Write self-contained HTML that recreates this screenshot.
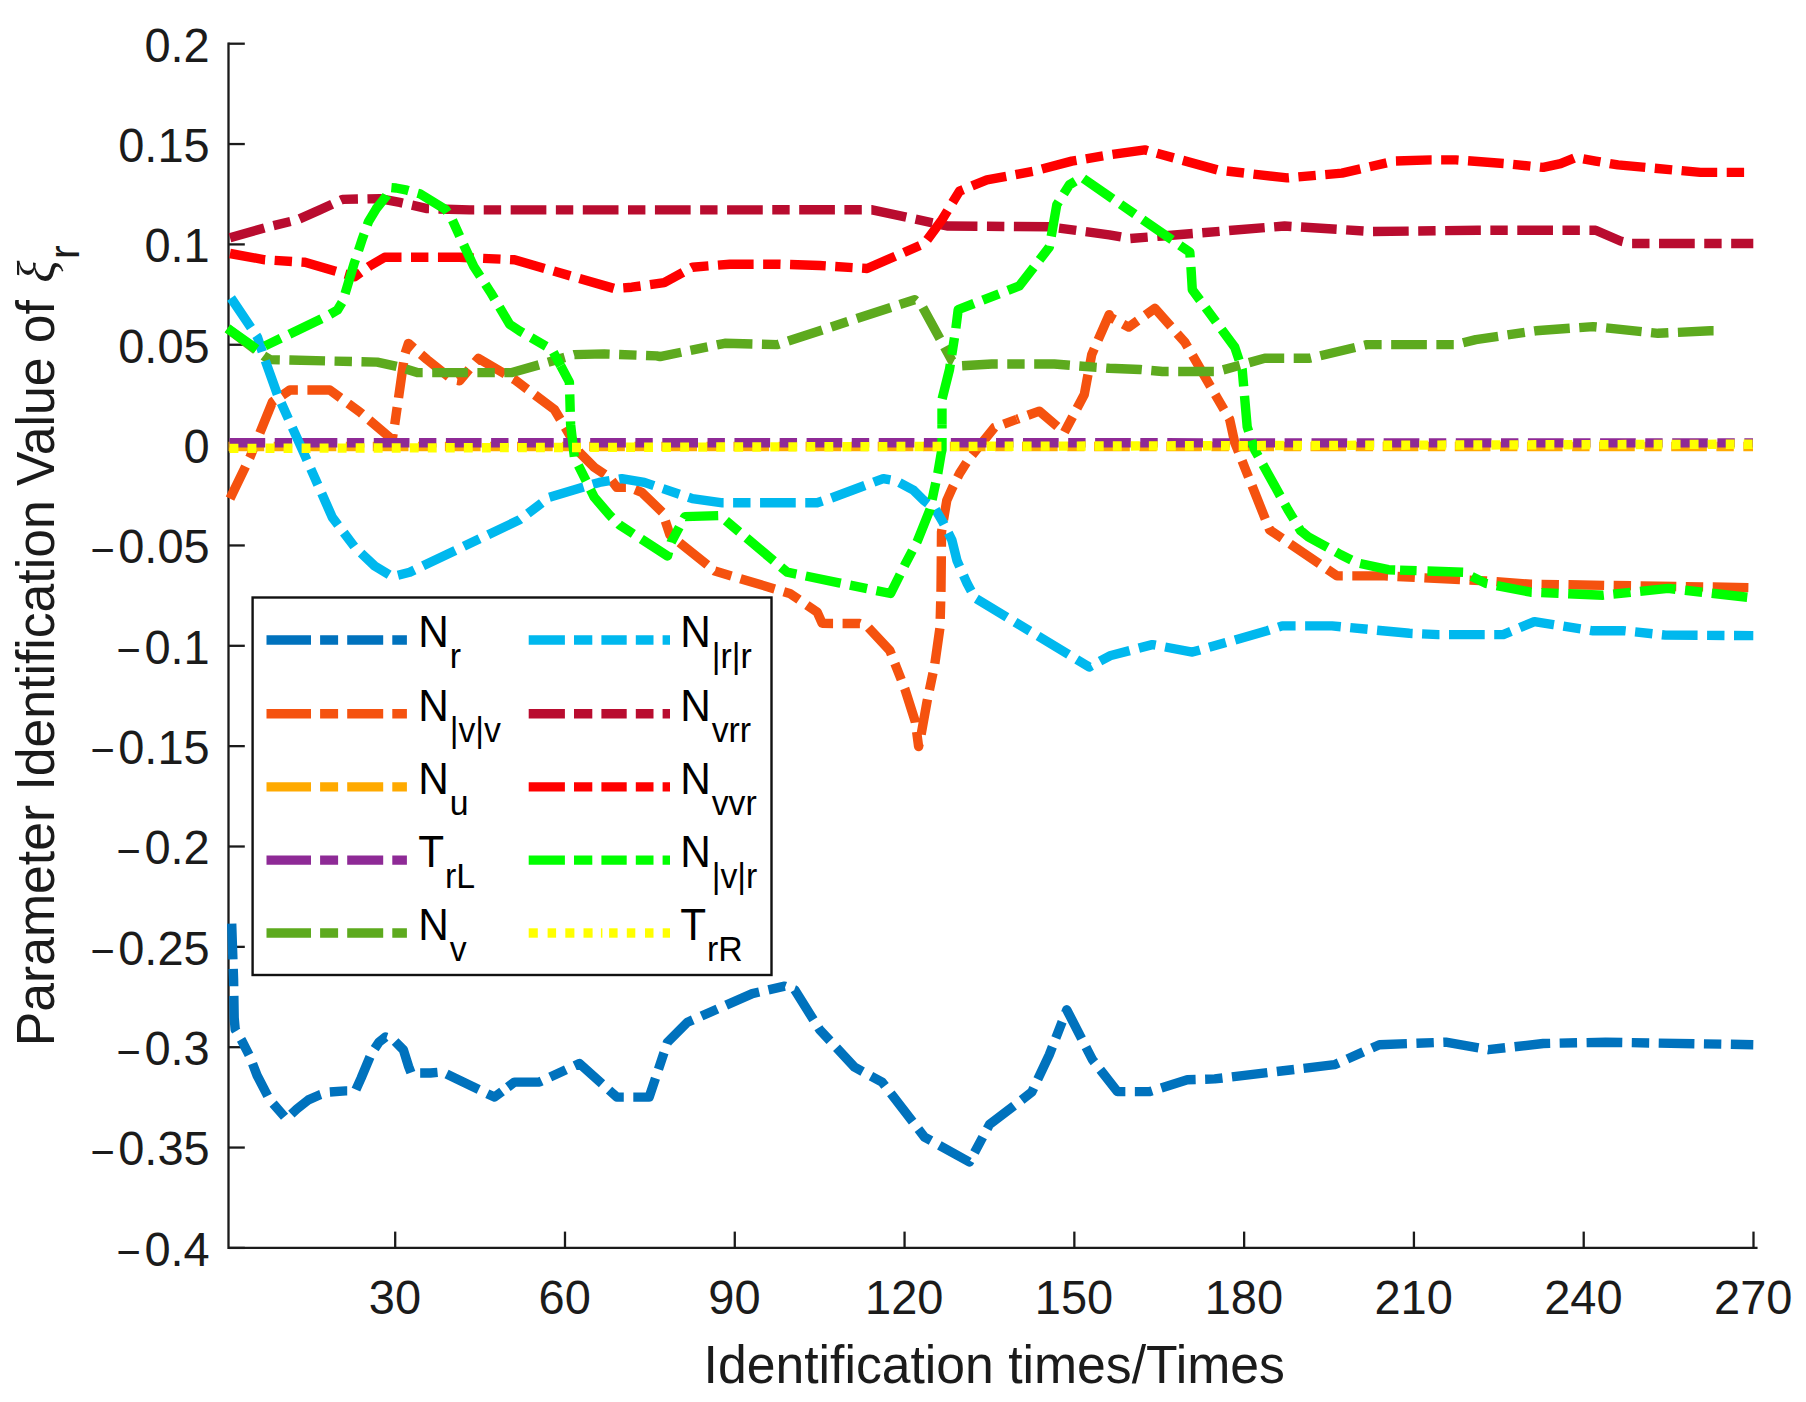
<!DOCTYPE html>
<html lang="en"><head><meta charset="utf-8"><title>Parameter Identification Value</title>
<style>html,body{margin:0;padding:0;background:#fff;overflow:hidden}svg{display:block}text{font-family:"Liberation Sans",sans-serif}</style></head><body>
<svg width="1806" height="1402" viewBox="0 0 1806 1402">
<rect width="1806" height="1402" fill="#fff"/>
<g stroke="#1b1b1b" stroke-width="2.3" fill="none" stroke-linecap="square">
<path d="M228.5,43.7 V1247.9 H1756.4"/>
</g>
<g stroke="#1b1b1b" stroke-width="2.3" fill="none">
<path d="M228.5,43.70 h16.3"/>
<path d="M228.5,144.05 h16.3"/>
<path d="M228.5,244.40 h16.3"/>
<path d="M228.5,344.75 h16.3"/>
<path d="M228.5,445.10 h16.3"/>
<path d="M228.5,545.45 h16.3"/>
<path d="M228.5,645.80 h16.3"/>
<path d="M228.5,746.15 h16.3"/>
<path d="M228.5,846.50 h16.3"/>
<path d="M228.5,946.85 h16.3"/>
<path d="M228.5,1047.20 h16.3"/>
<path d="M228.5,1147.55 h16.3"/>
<path d="M228.5,1247.90 h16.3"/>
<path d="M395.20,1247.9 v-16.3"/>
<path d="M564.99,1247.9 v-16.3"/>
<path d="M734.77,1247.9 v-16.3"/>
<path d="M904.56,1247.9 v-16.3"/>
<path d="M1074.35,1247.9 v-16.3"/>
<path d="M1244.14,1247.9 v-16.3"/>
<path d="M1413.92,1247.9 v-16.3"/>
<path d="M1583.71,1247.9 v-16.3"/>
<path d="M1753.50,1247.9 v-16.3"/>
</g>
<g fill="none" stroke-linejoin="round" stroke-linecap="butt">
<path d="M231.7,923.7 L233.6,980.0 L234.2,1018.0 L235.2,1029.5 L241.7,1040.5 L249.4,1055.5 L257.1,1075.5 L269.5,1099.5 L286.3,1118.8 L297.0,1108.9 L308.4,1099.9 L320.0,1094.8 L327.7,1092.2 L345.7,1090.9 L355.4,1090.9 L361.1,1078.1 L371.3,1053.7 L379.0,1042.2 L385.5,1037.0 L393.2,1039.6 L403.4,1049.9 L408.6,1066.5 L411.1,1073.0 L430.4,1073.0 L442.0,1071.9 L454.8,1078.1 L494.5,1097.1 L504.5,1089.6" stroke="#0072BD" stroke-width="9.4" stroke-dasharray="35.7 9.5 17.4 9.535"/>
<path d="M504.5,1089.6 L514.5,1082.1 L539.4,1082.1 L579.4,1063.4 L616.8,1097.1 L649.2,1097.1 L667.5,1042.2 L687.4,1022.3 L752.3,993.6 L784.7,986.1 L794.7,989.8 L819.7,1029.7 L854.6,1067.2 L882.1,1082.1 L924.5,1137.1 L969.4,1162.0 L989.4,1124.6 L1031.8,1092.1 L1049.3,1054.7 L1066.8,1009.8 L1092.4,1059.7 L1117.4,1091.6 L1149.8,1091.6 L1187.3,1079.7 L1214.7,1078.9 L1334.5,1064.7 L1379.4,1044.7 L1445.8,1042.2 L1488.3,1049.7 L1543.2,1043.5 L1605.6,1042.2 L1753.3,1044.7" stroke="#0072BD" stroke-width="9.4" stroke-dasharray="35.7 9.5 17.4 9.535" stroke-dashoffset="68.0"/>
<path d="M230.0,498.6 L249.9,457.4 L272.4,402.0 L289.9,390.0 L329.8,390.0 L359.8,412.0 L392.2,439.5 L394.7,424.5 L404.7,354.6 L408.4,343.4 L427.1,359.6 L452.1,379.6 L459.6,380.8 L478.3,358.4 L514.5,379.6 L554.4,409.5 L569.4,434.5 L579.4,452.4 L594.3,467.4 L609.3,477.4 L616.8,487.3 L629.3,487.3 L641.8,492.3 L662.5,512.3 L669.9,534.8 L714.9,571.0 L789.7,593.4 L817.2,612.1 L822.2,623.4 L859.9,623.5 L867.4,626.5 L889.8,650.5 L904.8,688.7 L915.3,721.7 L918.6,746.5 L920.5,738.0 L927.2,700.7 L934.7,664.8 L940.0,627.4 L941.0,589.9 L941.3,560.0 L941.5,532.0 L943.5,520.0 L946.8,500.3 L951.9,488.8 L959.6,473.4 L968.6,459.3 L975.0,451.6 L994.4,427.5 L1016.8,419.3" stroke="#F5520F" stroke-width="9.4" stroke-dasharray="35.7 9.5 17.4 9.535"/>
<path d="M1016.8,419.3 L1039.3,411.2 L1064.3,432.4 L1084.3,394.5 L1091.7,354.6 L1109.2,314.6 L1109.9,317.1 L1128.7,327.1 L1154.9,308.4 L1184.8,342.1 L1229.7,419.4 L1234.7,442.4 L1244.7,467.4 L1269.6,529.8 L1337.0,575.9 L1384.4,575.9 L1485.8,580.9 L1530.7,584.2 L1753.3,587.7" stroke="#F5520F" stroke-width="9.4" stroke-dasharray="35.7 9.5 17.4 9.535" stroke-dashoffset="60.3"/>
<path d="M228.5,446.5 L1753.0,446.5" stroke="#FFAA00" stroke-width="9.4" stroke-dasharray="35.7 9.5 17.4 9.535"/>
<path d="M229.5,442.7 L1753.0,442.9" stroke="#8E2A96" stroke-width="9.4" stroke-dasharray="35.7 9.5 17.4 9.535"/>
<path d="M227.5,328.4 L263.7,355.9 L269.9,359.6 L377.2,362.1 L399.7,367.1 L417.2,372.6 L512.0,372.6 L544.4,363.3 L574.4,354.6 L604.3,353.9 L656.7,355.9 L660.0,356.6 L724.9,343.3 L777.3,344.6 L914.6,299.7 L922.0,305.9 L952.0,360.8 L962.0,365.8 L991.9,364.0 L1054.3,364.0 L1109.2,368.3 L1139.9,369.5 L1162.4,371.5 L1217.3,371.5 L1264.7,358.3 L1309.6,358.3 L1367.0,344.6 L1455.8,344.6 L1475.8,339.6 L1535.7,330.8 L1593.1,326.6 L1618.0,329.1 L1658.0,333.3 L1710.4,330.8 L1722.9,330.8" stroke="#5DAA1E" stroke-width="9.4" stroke-dasharray="35.7 9.5 17.4 9.535"/>
<path d="M231.0,298.0 L257.4,337.1 L264.9,359.6 L277.4,394.5 L302.4,449.9 L332.3,517.3 L354.8,547.2 L374.7,566.0 L392.2,576.7 L409.7,572.2 L519.5,519.8 L549.4,497.3 L599.3,482.4 L621.8,478.6 L644.3,482.4 L692.4,498.6 L722.4,502.8 L817.2,502.8 L829.7,498.6 L883.3,478.6 L896.7,481.1 L913.4,490.1 L923.6,500.3 L935.2,509.0 L942.9,522.2 L951.9,540.1 L957.0,560.7 L967.3,583.8 L975.0,597.9 L1089.2,667.0 L1099.6,661.4" stroke="#00B8EE" stroke-width="9.4" stroke-dasharray="35.7 9.5 17.4 9.535"/>
<path d="M1099.6,661.4 L1100.0,661.2" stroke="#00B8EE" stroke-width="9.4" stroke-dasharray="35.7 9.5 17.4 9.535" stroke-dashoffset="70.3"/>
<path d="M1100.0,661.2 L1109.9,655.8 L1152.3,644.6 L1192.3,652.1 L1267.1,630.8 L1282.1,625.9 L1332.0,625.9 L1409.4,633.3 L1438.4,634.6 L1503.2,634.6 L1534.4,621.6 L1553.2,624.6 L1593.1,630.8 L1624.3,630.8 L1665.5,635.1 L1753.3,635.6" stroke="#00B8EE" stroke-width="9.4" stroke-dasharray="35.7 9.5 17.4 9.535" stroke-dashoffset="4.0"/>
<path d="M230.0,237.8 L264.9,227.8 L297.4,219.8 L319.8,209.9 L342.3,199.4 L379.7,198.6 L399.7,202.4 L427.1,208.6 L469.6,209.9 L872.1,209.8 L947.0,226.0 L1049.3,226.8 L1109.2,234.8 L1129.9,238.5 L1162.4,236.0 L1284.6,226.0 L1372.0,231.5 L1478.3,230.3 L1595.6,230.3 L1620.5,241.0 L1630.5,243.5 L1753.3,243.5" stroke="#B90C2F" stroke-width="9.4" stroke-dasharray="35.7 9.5 17.4 9.535"/>
<path d="M230.0,253.5 L264.9,259.8 L304.9,262.3 L334.8,271.0 L354.8,276.7 L369.7,266.0 L384.7,257.3 L459.6,257.3 L514.5,259.8 L614.3,288.5 L631.8,287.2 L664.2,282.7 L692.4,267.2 L729.9,264.2 L779.8,264.2 L819.7,265.5 L867.1,268.5 L924.5,243.5 L942.0,219.8 L959.5,191.1 L986.9,179.9 L1034.3,171.1 L1071.8,161.1 L1109.2,154.9 L1144.9,149.9 L1217.3,169.9 L1287.1,177.9 L1342.0,173.1 L1394.4,161.1 L1430.9,159.9 L1455.8,159.9 L1505.7,163.6 L1543.2,167.4 L1560.6,163.6 L1575.6,157.4 L1595.6,161.1 L1618.0,164.9 L1645.5,167.4 L1700.4,172.4 L1753.3,172.4" stroke="#FF0000" stroke-width="9.4" stroke-dasharray="35.7 9.5 17.4 9.535"/>
<path d="M227.5,328.4 L257.4,349.6 L327.3,315.9 L337.5,310.0 L342.8,301.2 L354.4,262.7 L362.1,239.6 L368.5,221.6 L376.2,208.8 L386.5,195.9 L390.5,187.5 L396.0,188.0 L407.0,190.2 L419.9,193.8 L445.5,209.4 L451.9,219.0 L464.8,247.3 L473.8,266.5 L490.5,292.2 L509.7,324.3 L519.5,330.9 L551.9,349.6 L560.7,365.8" stroke="#00FF00" stroke-width="9.4" stroke-dasharray="35.7 9.5 17.4 9.535"/>
<path d="M560.7,365.8 L569.4,382.1 L570.6,424.5 L574.4,457.4 L584.4,477.4 L594.3,497.3 L609.3,514.8 L619.3,524.8 L667.5,556.0 L671.2,542.3 L684.9,516.6 L719.9,515.6 L787.2,572.2 L838.9,582.8 L890.6,593.5 L905.7,563.2 L917.2,541.4 L930.1,509.3 L933.9,491.3 L937.8,473.4 L941.3,452.8 L942.0,449.9 L942.0,424.7" stroke="#00FF00" stroke-width="9.4" stroke-dasharray="35.7 9.5 17.4 9.535" stroke-dashoffset="14.4"/>
<path d="M942.0,424.7 L942.0,399.5 L949.5,369.5 L955.7,329.6 L958.2,309.6 L1019.4,285.9 L1049.3,247.2 L1056.8,204.8 L1069.3,184.9 L1081.8,177.4 L1189.8,252.2 L1191.1,269.7 L1192.3,289.7 L1234.7,347.1 L1242.2,369.5 L1247.2,426.9 L1254.7,449.9 L1273.6,483.9 L1287.8,509.5 L1300.5,530.5 L1308.3,536.8 L1322.4,544.5 L1340.4,554.5 L1357.1,562.8 L1388.4,569.7 L1400.0,570.1" stroke="#00FF00" stroke-width="9.4" stroke-dasharray="35.7 9.5 17.4 9.535" stroke-dashoffset="46.4"/>
<path d="M1400.0,570.1 L1425.9,571.0" stroke="#00FF00" stroke-width="9.4" stroke-dasharray="35.7 9.5 17.4 9.535" stroke-dashoffset="46.0"/>
<path d="M1425.9,571.0 L1463.3,572.2 L1485.8,583.4 L1530.7,592.2 L1603.1,595.2 L1668.0,588.4 L1753.3,597.9" stroke="#00FF00" stroke-width="9.4" stroke-dasharray="35.7 9.5 17.4 9.535" stroke-dashoffset="70.6"/>
<path d="M229.5,448.4 L1250.0,445.6 L1753.0,444.2" stroke="#FFFF00" stroke-width="9.4" stroke-dasharray="8.9 9.127"/>
</g>
<text transform="translate(209.70,61.60) scale(1,1.04)" font-size="47" fill="#1b1b1b" text-anchor="end">0.2</text>
<text transform="translate(209.70,161.95) scale(1,1.04)" font-size="47" fill="#1b1b1b" text-anchor="end">0.15</text>
<text transform="translate(209.70,262.30) scale(1,1.04)" font-size="47" fill="#1b1b1b" text-anchor="end">0.1</text>
<text transform="translate(209.70,362.65) scale(1,1.04)" font-size="47" fill="#1b1b1b" text-anchor="end">0.05</text>
<text transform="translate(209.70,463.00) scale(1,1.04)" font-size="47" fill="#1b1b1b" text-anchor="end">0</text>
<text transform="translate(209.70,563.35) scale(1,1.04)" font-size="47" fill="#1b1b1b" text-anchor="end"><tspan font-size="41.8" dy="1.35">−</tspan><tspan dx="3.4" dy="-1.35">0.05</tspan></text>
<text transform="translate(209.70,663.70) scale(1,1.04)" font-size="47" fill="#1b1b1b" text-anchor="end"><tspan font-size="41.8" dy="1.35">−</tspan><tspan dx="3.4" dy="-1.35">0.1</tspan></text>
<text transform="translate(209.70,764.05) scale(1,1.04)" font-size="47" fill="#1b1b1b" text-anchor="end"><tspan font-size="41.8" dy="1.35">−</tspan><tspan dx="3.4" dy="-1.35">0.15</tspan></text>
<text transform="translate(209.70,864.40) scale(1,1.04)" font-size="47" fill="#1b1b1b" text-anchor="end"><tspan font-size="41.8" dy="1.35">−</tspan><tspan dx="3.4" dy="-1.35">0.2</tspan></text>
<text transform="translate(209.70,964.75) scale(1,1.04)" font-size="47" fill="#1b1b1b" text-anchor="end"><tspan font-size="41.8" dy="1.35">−</tspan><tspan dx="3.4" dy="-1.35">0.25</tspan></text>
<text transform="translate(209.70,1065.10) scale(1,1.04)" font-size="47" fill="#1b1b1b" text-anchor="end"><tspan font-size="41.8" dy="1.35">−</tspan><tspan dx="3.4" dy="-1.35">0.3</tspan></text>
<text transform="translate(209.70,1165.45) scale(1,1.04)" font-size="47" fill="#1b1b1b" text-anchor="end"><tspan font-size="41.8" dy="1.35">−</tspan><tspan dx="3.4" dy="-1.35">0.35</tspan></text>
<text transform="translate(209.70,1265.80) scale(1,1.04)" font-size="47" fill="#1b1b1b" text-anchor="end"><tspan font-size="41.8" dy="1.35">−</tspan><tspan dx="3.4" dy="-1.35">0.4</tspan></text>
<text transform="translate(394.90,1314.00) scale(1,1.04)" font-size="47" fill="#1b1b1b" text-anchor="middle">30</text>
<text transform="translate(564.69,1314.00) scale(1,1.04)" font-size="47" fill="#1b1b1b" text-anchor="middle">60</text>
<text transform="translate(734.48,1314.00) scale(1,1.04)" font-size="47" fill="#1b1b1b" text-anchor="middle">90</text>
<text transform="translate(904.26,1314.00) scale(1,1.04)" font-size="47" fill="#1b1b1b" text-anchor="middle">120</text>
<text transform="translate(1074.05,1314.00) scale(1,1.04)" font-size="47" fill="#1b1b1b" text-anchor="middle">150</text>
<text transform="translate(1243.84,1314.00) scale(1,1.04)" font-size="47" fill="#1b1b1b" text-anchor="middle">180</text>
<text transform="translate(1413.62,1314.00) scale(1,1.04)" font-size="47" fill="#1b1b1b" text-anchor="middle">210</text>
<text transform="translate(1583.41,1314.00) scale(1,1.04)" font-size="47" fill="#1b1b1b" text-anchor="middle">240</text>
<text transform="translate(1753.20,1314.00) scale(1,1.04)" font-size="47" fill="#1b1b1b" text-anchor="middle">270</text>
<text transform="translate(994.20,1382.60) scale(1,1.04)" font-size="51.7" fill="#1b1b1b" text-anchor="middle">Identification times/Times</text>
<text transform="translate(53.50,1046.20) rotate(-90) scale(1,1.04)" font-size="51.7" fill="#1b1b1b">Parameter Identification Value of <tspan dx="3.1" font-family="'Liberation Serif','DejaVu Serif',serif" font-style="italic">ξ</tspan><tspan dx="1.6" dy="24.4" font-size="41.4">r</tspan></text>
<rect x="252.6" y="597.5" width="518.9" height="377.5" fill="#fff" stroke="#111" stroke-width="2.4"/>
<g fill="none" stroke-width="9.4">
<path d="M266.5,640.0 H406.9" stroke="#0072BD" stroke-dasharray="44.5 9.1 18 9.1 36 9.1 30"/>
<path d="M266.5,713.7 H406.9" stroke="#F5520F" stroke-dasharray="44.5 9.1 18 9.1 36 9.1 30"/>
<path d="M266.5,786.9 H406.9" stroke="#FFAA00" stroke-dasharray="44.5 9.1 18 9.1 36 9.1 30"/>
<path d="M266.5,860.1 H406.9" stroke="#8E2A96" stroke-dasharray="44.5 9.1 18 9.1 36 9.1 30"/>
<path d="M266.5,933.0 H406.9" stroke="#5DAA1E" stroke-dasharray="44.5 9.1 18 9.1 36 9.1 30"/>
<path d="M528.7,640.0 H670" stroke="#00B8EE" stroke-dasharray="36.2 9.1 18.3 9.1 25.3 9.1 17.7 9.1 30"/>
<path d="M528.7,713.7 H670" stroke="#B90C2F" stroke-dasharray="36.2 9.1 18.3 9.1 25.3 9.1 17.7 9.1 30"/>
<path d="M528.7,786.9 H670" stroke="#FF0000" stroke-dasharray="36.2 9.1 18.3 9.1 25.3 9.1 17.7 9.1 30"/>
<path d="M528.7,860.1 H670" stroke="#00FF00" stroke-dasharray="36.2 9.1 18.3 9.1 25.3 9.1 17.7 9.1 30"/>
</g>
<rect x="528.7" y="928.3" width="9.1" height="9.4" fill="#FFFF00"/>
<rect x="547.6" y="928.3" width="8.5" height="9.4" fill="#FFFF00"/>
<rect x="565.3" y="928.3" width="9.1" height="9.4" fill="#FFFF00"/>
<rect x="583.5" y="928.3" width="9.1" height="9.4" fill="#FFFF00"/>
<rect x="600.9" y="928.3" width="1.5" height="9.4" fill="#FFFF00"/>
<rect x="609.1" y="928.3" width="8.5" height="9.4" fill="#FFFF00"/>
<rect x="626.8" y="928.3" width="8.5" height="9.4" fill="#FFFF00"/>
<rect x="645.0" y="928.3" width="8.5" height="9.4" fill="#FFFF00"/>
<rect x="662.7" y="928.3" width="7.3" height="9.4" fill="#FFFF00"/>
<text transform="translate(418.30,646.80) scale(1,1.04)" font-size="42.3" fill="#000">N<tspan dx="0.8" dy="20.3" font-size="33.8">r</tspan></text>
<text transform="translate(418.30,720.50) scale(1,1.04)" font-size="42.3" fill="#000">N<tspan dx="0.8" dy="20.3" font-size="33.8">|v|v</tspan></text>
<text transform="translate(418.30,793.70) scale(1,1.04)" font-size="42.3" fill="#000">N<tspan dx="0.8" dy="20.3" font-size="33.8">u</tspan></text>
<text transform="translate(418.30,866.90) scale(1,1.04)" font-size="42.3" fill="#000">T<tspan dx="0.8" dy="20.3" font-size="33.8">rL</tspan></text>
<text transform="translate(418.30,939.80) scale(1,1.04)" font-size="42.3" fill="#000">N<tspan dx="0.8" dy="20.3" font-size="33.8">v</tspan></text>
<text transform="translate(680.30,646.80) scale(1,1.04)" font-size="42.3" fill="#000">N<tspan dx="0.8" dy="20.3" font-size="33.8">|r|r</tspan></text>
<text transform="translate(680.30,720.50) scale(1,1.04)" font-size="42.3" fill="#000">N<tspan dx="0.8" dy="20.3" font-size="33.8">vrr</tspan></text>
<text transform="translate(680.30,793.70) scale(1,1.04)" font-size="42.3" fill="#000">N<tspan dx="0.8" dy="20.3" font-size="33.8">vvr</tspan></text>
<text transform="translate(680.30,866.90) scale(1,1.04)" font-size="42.3" fill="#000">N<tspan dx="0.8" dy="20.3" font-size="33.8">|v|r</tspan></text>
<text transform="translate(680.30,939.80) scale(1,1.04)" font-size="42.3" fill="#000">T<tspan dx="0.8" dy="20.3" font-size="33.8">rR</tspan></text>
</svg></body></html>
